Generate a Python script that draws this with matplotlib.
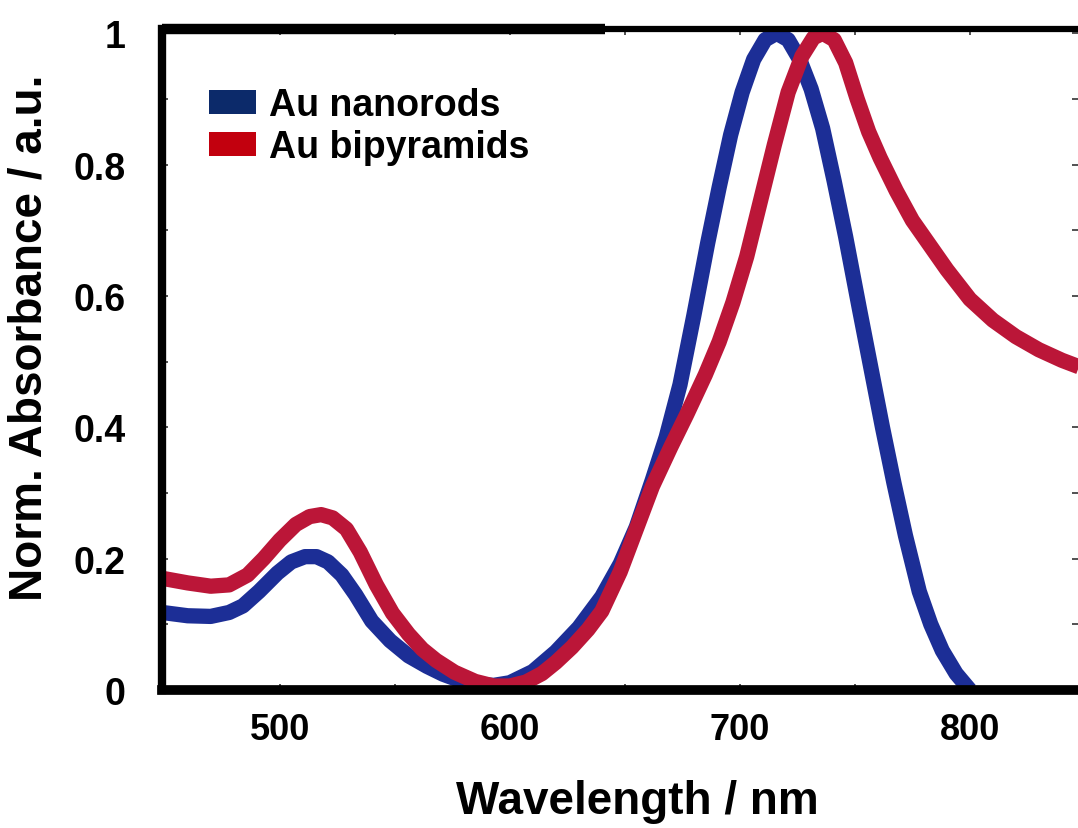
import matplotlib
matplotlib.use("Agg")
import matplotlib.pyplot as plt
from matplotlib.patches import Patch
from matplotlib.ticker import MultipleLocator, FuncFormatter

# spectra (wavelength nm, normalised absorbance)
rods_nm = [449, 460, 470, 478, 484, 491, 499, 505, 511, 516, 521, 527, 533, 540,
           548, 556, 564, 571, 578, 585, 593, 600, 610, 620, 630, 640, 648, 655,
           662, 668, 674, 680, 686, 691, 696, 701, 706, 711, 716, 721, 726, 731,
           736, 741, 746, 752, 757, 762, 767, 772, 778, 783, 788, 794, 800]
rods_abs = [0.118, 0.113, 0.112, 0.118, 0.128, 0.150, 0.178, 0.195, 0.203, 0.203,
            0.195, 0.175, 0.145, 0.105, 0.075, 0.052, 0.036, 0.024, 0.015, 0.009,
            0.007, 0.011, 0.028, 0.058, 0.095, 0.142, 0.192, 0.248, 0.320, 0.385,
            0.465, 0.570, 0.680, 0.765, 0.845, 0.910, 0.960, 0.990, 1.000, 0.990,
            0.960, 0.915, 0.855, 0.775, 0.690, 0.580, 0.490, 0.400, 0.315, 0.235,
            0.150, 0.100, 0.060, 0.025, 0.000]

bipy_nm = [449, 460, 470, 478, 486, 493, 500, 507, 513, 518, 523, 529, 535, 542,
           549, 556, 562, 568, 576, 585, 593, 600, 607, 614, 620, 627, 634, 640,
           648, 655, 662, 670, 677, 685, 691, 697, 703, 709, 715, 721, 727, 732,
           736, 741, 746, 751, 756, 761, 768, 775, 782, 790, 800, 810, 820, 830,
           840, 849]
bipy_abs = [0.170, 0.163, 0.158, 0.160, 0.175, 0.200, 0.228, 0.252, 0.264, 0.267,
            0.262, 0.245, 0.210, 0.160, 0.117, 0.085, 0.062, 0.045, 0.027, 0.013,
            0.006, 0.006, 0.012, 0.025, 0.042, 0.065, 0.092, 0.120, 0.180, 0.245,
            0.310, 0.370, 0.420, 0.480, 0.530, 0.590, 0.660, 0.745, 0.830, 0.910,
            0.965, 0.993, 1.000, 0.990, 0.955, 0.900, 0.850, 0.810, 0.760, 0.715,
            0.680, 0.640, 0.595, 0.563, 0.538, 0.518, 0.502, 0.490]

labels = ["Au nanorods", "Au bipyramids"]
line_colors = ["#1c2e96", "#bb1638"]
patch_colors = ["#0c2a6a", "#c2000e"]

plt.rcParams['font.family'] = ['Liberation Sans', 'DejaVu Sans']
plt.rcParams['font.weight'] = 'bold'

fig = plt.figure(figsize=(10.78, 8.29), dpi=100)
ax = fig.add_axes([0.150, 0.1665, 0.850, 0.797])

for xs, ys, c in [(rods_nm, rods_abs, line_colors[0]), (bipy_nm, bipy_abs, line_colors[1])]:
    ax.plot(xs, ys, color=c, lw=11, solid_capstyle='butt', solid_joinstyle='round')

ax.set_xlim(448.7, 847)
ax.set_ylim(0, 1.006)

ax.xaxis.set_major_locator(MultipleLocator(100))
ax.xaxis.set_minor_locator(MultipleLocator(50))
ax.yaxis.set_major_locator(MultipleLocator(0.2))
ax.yaxis.set_minor_locator(MultipleLocator(0.1))
ax.yaxis.set_major_formatter(FuncFormatter(lambda v, p: "%g" % round(v, 2)))

ax.tick_params(which='both', direction='in', top=True, right=True,
               length=4, width=1.2, color='#333333')
ax.tick_params(axis='x', which='major', labelsize=26, pad=16)
ax.tick_params(axis='y', which='major', labelsize=27, pad=26)

ax.spines['right'].set_visible(False)
ax.spines['left'].set_linewidth(6)
ax.spines['bottom'].set_linewidth(7)
ax.spines['top'].set_linewidth(4.5)
# thicker piece of the top frame on the left
ax.plot([0, 0.484], [1, 1], transform=ax.transAxes, color='black', lw=7.5,
        clip_on=False, solid_capstyle='butt')

ax.set_xlabel("Wavelength / nm", fontsize=33, fontweight='bold')
ax.set_ylabel("Norm. Absorbance / a.u.", fontsize=33, fontweight='bold')
ax.xaxis.set_label_coords(0.519, -0.135)
ax.yaxis.set_label_coords(-0.120, 0.535)

handles = [Patch(facecolor=c, edgecolor='none') for c in patch_colors]
ax.legend(handles, labels, loc='upper left', bbox_to_anchor=(0.035, 0.935),
          frameon=False, handlelength=1.25, handleheight=0.6,
          handletextpad=0.35, labelspacing=0.15, borderaxespad=0,
          prop={'weight': 'bold', 'size': 27})

fig.savefig("out.png", dpi=100)
